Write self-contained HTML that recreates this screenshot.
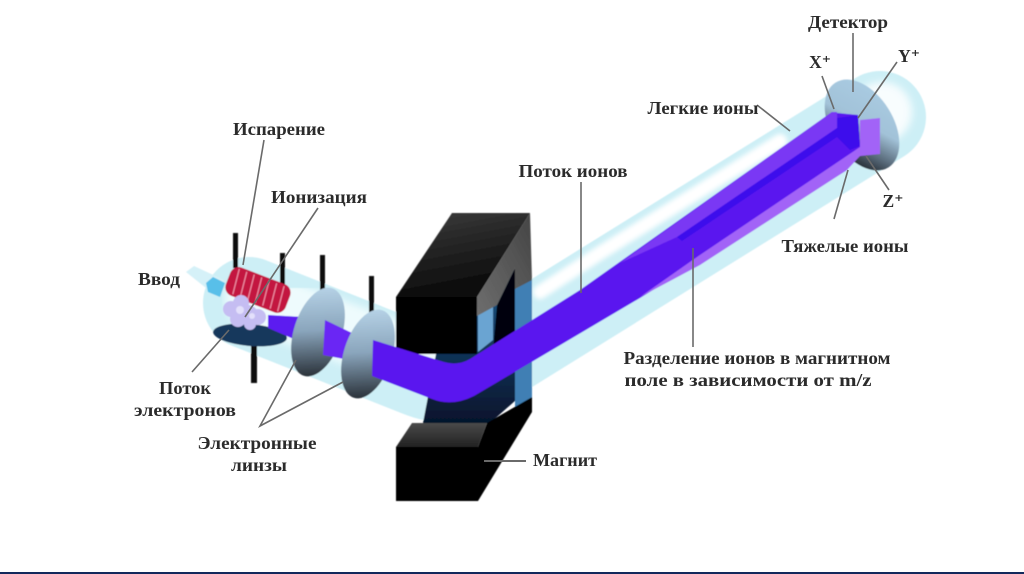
<!DOCTYPE html>
<html><head><meta charset="utf-8">
<style>
html,body{margin:0;padding:0;background:#fff;width:1024px;height:574px;overflow:hidden}
svg{display:block}
text{font-family:"Liberation Serif","DejaVu Serif",serif;font-weight:bold;font-size:17.5px;fill:#2b2b2b;text-anchor:middle}
</style></head><body>
<svg width="1024" height="574" viewBox="0 0 1024 574" xmlns="http://www.w3.org/2000/svg">
<defs>
<filter id="b1" x="-10%" y="-10%" width="120%" height="120%"><feGaussianBlur stdDeviation="0.6"/></filter>
<filter id="b4" x="-20%" y="-20%" width="140%" height="140%"><feGaussianBlur stdDeviation="4"/></filter>
<filter id="b2" x="-20%" y="-20%" width="140%" height="140%"><feGaussianBlur stdDeviation="2.5"/></filter>
<linearGradient id="lens" x1="0.3" y1="0" x2="0.5" y2="1"><stop offset="0" stop-color="#b8d4e8"/><stop offset="0.5" stop-color="#8aa5bc"/><stop offset="1" stop-color="#2c343c"/></linearGradient>
<linearGradient id="det" x1="0.15" y1="0.1" x2="0.9" y2="0.9"><stop offset="0" stop-color="#a9cbe2"/><stop offset="0.45" stop-color="#a2c2d8"/><stop offset="0.75" stop-color="#5a6c7c"/><stop offset="1" stop-color="#1a2026"/></linearGradient>
<linearGradient id="top1" x1="0" y1="0" x2="0.3" y2="1"><stop offset="0" stop-color="#3c3c3c"/><stop offset="1" stop-color="#0a0a0a"/></linearGradient>
<linearGradient id="side1" x1="1" y1="0" x2="0" y2="1"><stop offset="0" stop-color="#444"/><stop offset="1" stop-color="#6e6e6e"/></linearGradient>
<linearGradient id="top2" x1="0" y1="0" x2="0" y2="1"><stop offset="0" stop-color="#4a4a4a"/><stop offset="1" stop-color="#222"/></linearGradient>
<linearGradient id="navy" x1="0" y1="0" x2="0" y2="1"><stop offset="0" stop-color="#1f5a8c"/><stop offset="1" stop-color="#06142c"/></linearGradient>
</defs>
<rect width="1024" height="574" fill="#fff"/>

<g filter="url(#b1)">
<!-- tube -->
<path d="M249,303 L420,371 Q452,384 482,364 L880,117" fill="none" stroke="#cdeff6" stroke-width="92" stroke-linecap="round" stroke-linejoin="round"/>
<path d="M255,300 L420,360" fill="none" stroke="#eefbfd" stroke-width="60" stroke-linecap="round" filter="url(#b4)"/>
<polyline points="540,292 600,253 780,141" fill="none" stroke="#fff" stroke-width="14" stroke-linecap="round" filter="url(#b2)"/>
<circle cx="882" cy="112" r="30" fill="#f8fdfe" filter="url(#b4)"/>

<!-- inlet -->
<polygon points="186,272 194,266 224,280 216,296" fill="#d5f1f8"/>
<polygon points="206,283 213,277 225,283 220,297 208,292" fill="#58bfe9"/>

<!-- wires -->
<rect x="233" y="233" width="5" height="35" fill="#111"/>
<rect x="280" y="253" width="5" height="32" fill="#111"/>
<rect x="320" y="255" width="5" height="38" fill="#111"/>
<rect x="369" y="276" width="5" height="38" fill="#111"/>

<!-- plate -->
<rect x="251" y="340" width="6" height="43" fill="#111"/>
<ellipse cx="250" cy="335" rx="37" ry="11" transform="rotate(5 250 335)" fill="#17395c"/>

<!-- coil -->
<g transform="rotate(21 258 290)">
<rect x="226" y="275" width="64" height="30" rx="9" fill="#c3143f"/>
<g stroke="#ee8fa8" stroke-width="1.2" fill="none">
<path d="M233,277 l3,26 M241,277 l3,26 M249,277 l3,26 M257,277 l3,26 M265,277 l3,26 M273,277 l3,26 M281,277 l3,26"/>
</g>
</g>

<!-- blobs -->
<g fill="#c5bdf2">
<circle cx="231" cy="309" r="8"/><circle cx="241" cy="303" r="8"/><circle cx="248" cy="315" r="10"/>
<circle cx="238" cy="319" r="8"/><circle cx="258" cy="317" r="8"/><circle cx="250" cy="324" r="6"/>
</g>
<g fill="#e3e0fb"><circle cx="240" cy="310" r="4"/><circle cx="252" cy="316" r="3"/></g>

<!-- beam at source -->
<polygon points="268,315 303,317 296,340 268,328" fill="#5c1cf0"/>

<!-- lens 1 -->
<ellipse cx="318" cy="332" rx="24" ry="46" transform="rotate(18 318 332)" fill="url(#lens)"/>
<polygon points="325,320 352,333 344,359 323,355" fill="#6a28f4"/>
<!-- lens 2 -->
<ellipse cx="368" cy="354" rx="24" ry="46" transform="rotate(18 368 354)" fill="url(#lens)"/>

<!-- magnet interior -->
<polygon points="436,354 516,268 516,400 490,423 423,423" fill="url(#navy)"/>
<polygon points="478,312 493,306 493,340 478,352" fill="#6ba4d2"/>
<polygon points="497,305 515,268 515,340 493,352" fill="#03060e"/>
<polygon points="515,289 532,279 532,397 515,408" fill="#3f7fb4"/>

<!-- magnet upper -->
<polygon points="452,213 530,213 477,297 396,297" fill="url(#top1)"/>
<polygon points="530,213 532,280 515,289 515,268 497,305 477,316 477,297" fill="url(#side1)"/>
<rect x="396" y="297" width="81" height="57" fill="#000"/>

<!-- magnet lower -->
<polygon points="487,423 532,397 532,412 478,501 478,447" fill="#050505"/>
<polygon points="396,447 412,423 487,423 478,447" fill="url(#top2)"/>
<rect x="396" y="447" width="82" height="54" fill="#000"/>

<!-- detector -->
<ellipse cx="862" cy="125" rx="50" ry="31" transform="rotate(58 862 125)" fill="url(#det)"/>

<!-- beam: main with bend -->
<path d="M373,340 L372,376 L432,399 Q452,407 474,396 L640,298 L847,170 L860,147 L858,115 L837,113 L832,112 L580,290 L470,359 Q458,366 444,362 Z" fill="#5a16ef"/>
<!-- top band -->
<polygon points="620,263 832,112 837,112 837,128 677,237" fill="#7a38f4"/>
<!-- light band -->
<polygon points="640,297 697,257 860,147 860,120 880,118 880,154 860,156 847,170 700,265" fill="#a263f7"/>
<!-- deep stripe and end face -->
<polygon points="677,237 837,128 837,118 858,115 860,146 850,150 837,137 682,241" fill="#3d0cec"/>
</g>

<!-- leader lines -->
<g stroke="#6a6a6a" stroke-width="1.6" fill="none">
<line x1="264" y1="140" x2="243" y2="265"/>
<line x1="318" y1="208" x2="245" y2="317"/>
<line x1="192" y1="372" x2="229" y2="330"/>
<polyline points="296,360 260,426 343,382"/>
<line x1="581" y1="182" x2="581" y2="293"/>
<line x1="757" y1="105" x2="790" y2="131"/>
<line x1="853" y1="33" x2="853" y2="92"/>
<line x1="822" y1="76" x2="834" y2="109"/>
<line x1="897" y1="62" x2="858" y2="118"/>
<line x1="889" y1="190" x2="866" y2="156"/>
<line x1="834" y1="219" x2="848" y2="170"/>
<line x1="693" y1="347" x2="693" y2="248"/>
<line x1="484" y1="461" x2="526" y2="461" stroke-width="2"/>
</g>

<!-- labels -->
<text x="279" y="135" textLength="92" lengthAdjust="spacingAndGlyphs">Испарение</text>
<text x="319" y="203" textLength="96" lengthAdjust="spacingAndGlyphs">Ионизация</text>
<text x="159" y="285" textLength="42" lengthAdjust="spacingAndGlyphs">Ввод</text>
<text x="185" y="394" textLength="52" lengthAdjust="spacingAndGlyphs">Поток</text>
<text x="185" y="416" textLength="102" lengthAdjust="spacingAndGlyphs">электронов</text>
<text x="257" y="449" textLength="119" lengthAdjust="spacingAndGlyphs">Электронные</text>
<text x="259" y="471" textLength="56" lengthAdjust="spacingAndGlyphs">линзы</text>
<text x="565" y="466" textLength="64" lengthAdjust="spacingAndGlyphs">Магнит</text>
<text x="573" y="177" textLength="109" lengthAdjust="spacingAndGlyphs">Поток ионов</text>
<text x="703" y="114" textLength="111" lengthAdjust="spacingAndGlyphs">Легкие ионы</text>
<text x="848" y="28" textLength="80" lengthAdjust="spacingAndGlyphs">Детектор</text>
<text x="820" y="68">X⁺</text>
<text x="909" y="62">Y⁺</text>
<text x="893" y="207">Z⁺</text>
<text x="845" y="252" textLength="127" lengthAdjust="spacingAndGlyphs">Тяжелые ионы</text>
<text x="757" y="364" textLength="267" lengthAdjust="spacingAndGlyphs">Разделение ионов в магнитном</text>
<text x="748" y="386" textLength="247" lengthAdjust="spacingAndGlyphs">поле в зависимости от m/z</text>

<rect x="0" y="572" width="1024" height="2" fill="#12295c"/>
</svg>
</body></html>
